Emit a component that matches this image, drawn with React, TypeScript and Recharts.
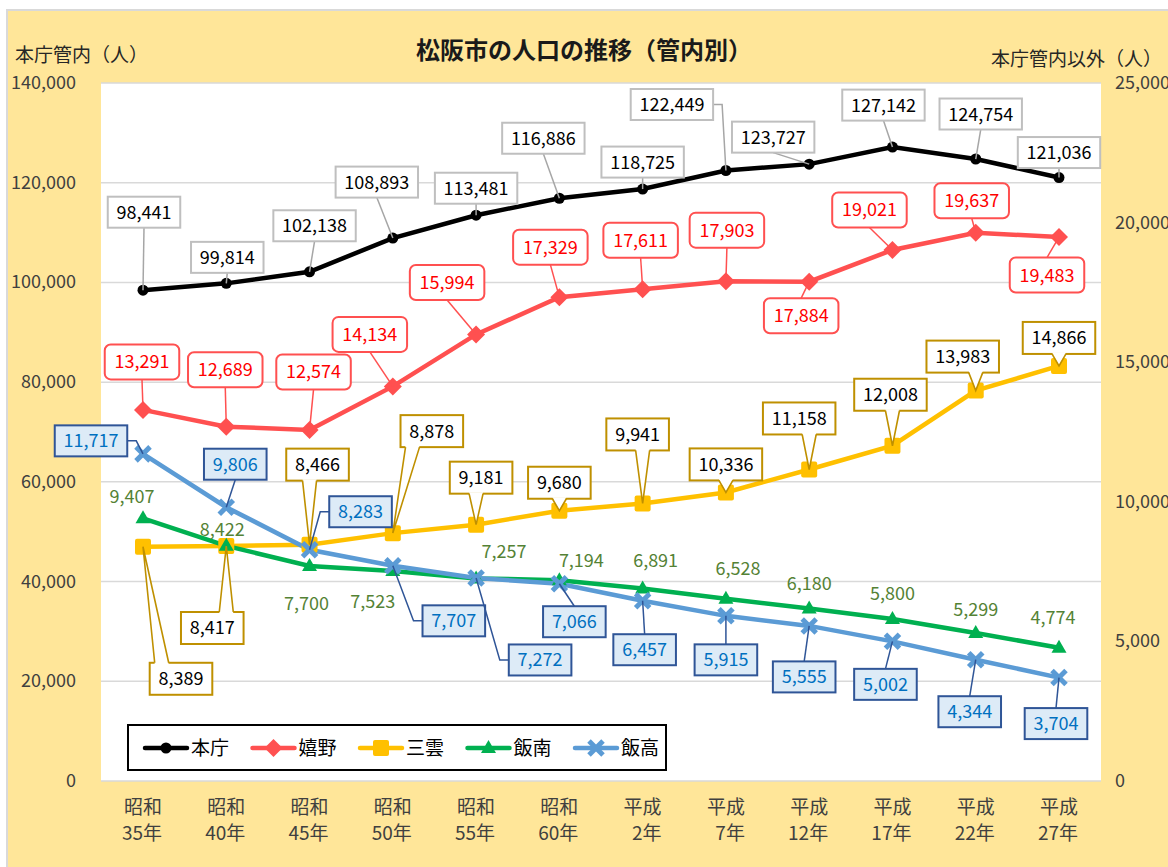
import React from 'react';
import { LineChart, Line, XAxis, YAxis, CartesianGrid, LabelList } from 'recharts';

const FONT = '"Noto Sans CJK JP", "Noto Sans", sans-serif';

// categories
const eraLabels = ['昭和', '昭和', '昭和', '昭和', '昭和', '昭和', '平成', '平成', '平成', '平成', '平成', '平成'];
const yearLabels = ['35年', '40年', '45年', '50年', '55年', '60年', '2年', '7年', '12年', '17年', '22年', '27年'];

// series (人)
const honcho = [98441, 99814, 102138, 108893, 113481, 116886, 118725, 122449, 123727, 127142, 124754, 121036];
const ureshino = [13291, 12689, 12574, 14134, 15994, 17329, 17611, 17903, 17884, 19021, 19637, 19483];
const mikumo = [8389, 8417, 8466, 8878, 9181, 9680, 9941, 10336, 11158, 12008, 13983, 14866];
const iinan = [9407, 8422, 7700, 7523, 7257, 7194, 6891, 6528, 6180, 5800, 5299, 4774];
const iitaka = [11717, 9806, 8283, 7707, 7272, 7066, 6457, 5915, 5555, 5002, 4344, 3704];

const leftTicks = [0, 20000, 40000, 60000, 80000, 100000, 120000, 140000];
const rightTicks = [0, 5000, 10000, 15000, 20000, 25000];

// where each data label sits relative to its point [dx, dy]
const honchoLabelPos = [[1, -78], [1, -26], [5, -46], [-16, -56], [0, -27], [-16, -60], [0, -27], [-54, -66], [-36, -27], [-9, -42], [5, -45], [0, -25]];
const ureshinoLabelPos = [[-1, -48], [-1, -57], [4, -58], [-23, -52], [-29, -52], [-9, -50], [-2, -49], [1, -51], [-8, 34], [-23, -40], [-4, -32], [-12, 38]];
const mikumoLabelPos = [[38, 132], [-14, 82], [8, -80], [39, -102], [5, -47], [0, -28], [-5, -69], [0, -28], [-10, -51], [-2, -51], [-13, -34], [0, -28]];
const iinanLabelPos = [[-11, -22], [-4, -16], [-3, 37], [-20, 31], [28, -27], [22, -20], [13, -28], [12, -30], [0, -25], [0, -26], [0, -24], [-6, -30]];
const iitakaLabelPos = [[-52, -13], [9, -43], [51, -38], [61, 55], [64, 82], [15, 38], [2, 49], [0, 44], [-5, 51], [-7, 43], [-6, 52], [-3, 46]];

const data = eraLabels.map((era, i) => ({
    idx: i,
    honcho: honcho[i],
    ureshino: ureshino[i],
    mikumo: mikumo[i],
    iinan: iinan[i],
    iitaka: iitaka[i],
}));

const fmt = (v: number) => v.toLocaleString('en-US');
const clamp = (v: number, lo: number, hi: number) => Math.max(lo, Math.min(hi, v));

type LabelStyle = {
    box: boolean;
    fill?: string;
    stroke?: string;
    leader?: string;
    text: string;
    rx?: number;
    h?: number;
    pad?: number;
    wedge?: boolean;
};

const textWidth = (s: string) => {
    const digits = s.replace(/,/g, '').length;
    return digits * 9.9 + (s.length - digits) * 5;
};

const makeLabel = (st: LabelStyle, values: number[], pos: number[][]) => (props: any) => {
    const { x, y } = props;
    let i = props.index;
    if (i == null) i = values.indexOf(props.value);
    if (x == null || y == null || i < 0) return null;
    const [dx, dy] = pos[i];
    const cx = x + dx;
    const cy = y + dy;
    const txt = fmt(values[i]);
    const label = (
        <text x={cx} y={cy + 6.5} textAnchor="middle" fill={st.text} fontSize={18} fontFamily={FONT}>{txt}</text>
    );
    if (!st.box) return <g key={`l-${i}`}>{label}</g>;

    const w = textWidth(txt) + (st.pad || 9) * 2;
    const h = st.h || 31;
    const l = cx - w / 2, r = cx + w / 2, t = cy - h / 2, b = cy + h / 2;

    if (st.wedge) {
        const below = y > cy;
        const ey = below ? b : t;
        const inner = below ? b - 1.5 : t + 1.5;
        const bx = clamp(x, l + 12, r - 12);
        return (
            <g key={`l-${i}`}>
                <rect x={l} y={t} width={w} height={h} fill={st.fill} stroke={st.stroke} strokeWidth={2} />
                <polygon points={`${bx - 7},${inner} ${x},${y} ${bx + 7},${inner}`} fill={st.fill} stroke="none" />
                <polyline points={`${bx - 7},${ey} ${x},${y} ${bx + 7},${ey}`} fill="none" stroke={st.stroke} strokeWidth={1.6} />
                {label}
            </g>
        );
    }

    let d = '';
    if (x >= l && x <= r) {
        const ey = y > cy ? b : t;
        if (Math.abs(y - ey) > 3) d = `M${cx},${ey} L${x},${y}`;
    } else {
        const side = x > r ? r : l;
        const stub = x > r ? r + 9 : l - 9;
        d = `M${side},${cy} L${stub},${cy} L${x},${y}`;
    }
    return (
        <g key={`l-${i}`}>
            {d && <path d={d} fill="none" stroke={st.leader} strokeWidth={1.5} />}
            <rect x={l} y={t} width={w} height={h} rx={st.rx || 0} fill={st.fill} stroke={st.stroke} strokeWidth={2} />
            {label}
        </g>
    );
};

// markers
const Circle = ({ cx, cy, color }: any) => <circle cx={cx} cy={cy} r={5.5} fill={color} />;
const Diamond = ({ cx, cy, color }: any) => (
    <polygon points={`${cx},${cy - 9} ${cx + 9},${cy} ${cx},${cy + 9} ${cx - 9},${cy}`} fill={color} />
);
const Square = ({ cx, cy, color }: any) => <rect x={cx - 8} y={cy - 8} width={16} height={16} rx={2} fill={color} />;
const Triangle = ({ cx, cy, color }: any) => (
    <polygon points={`${cx},${cy - 8} ${cx + 7.5},${cy + 5} ${cx - 7.5},${cy + 5}`} fill={color} />
);
const Cross = ({ cx, cy, color }: any) => (
    <g>
        <line x1={cx - 7} y1={cy - 7} x2={cx + 7} y2={cy + 7} stroke={color} strokeWidth={5} />
        <line x1={cx - 7} y1={cy + 7} x2={cx + 7} y2={cy - 7} stroke={color} strokeWidth={5} />
    </g>
);

const dotOf = (Shape: any, color: string) => (p: any) => (
    <g key={`d-${p.index}`}><Shape cx={p.cx} cy={p.cy} color={color} /></g>
);

const series = [
    { key: 'honcho', name: '本庁', color: '#000000', axis: 'left', Shape: Circle },
    { key: 'ureshino', name: '嬉野', color: '#FF5050', axis: 'right', Shape: Diamond },
    { key: 'mikumo', name: '三雲', color: '#FFC000', axis: 'right', Shape: Square },
    { key: 'iinan', name: '飯南', color: '#00B050', axis: 'right', Shape: Triangle },
    { key: 'iitaka', name: '飯高', color: '#5B9BD5', axis: 'right', Shape: Cross },
];

const labelSetups = [
    { key: 'honcho', axis: 'left', fn: makeLabel({ box: true, fill: '#fff', stroke: '#BFBFBF', leader: '#A6A6A6', text: '#000', h: 31, pad: 9 }, honcho, honchoLabelPos) },
    { key: 'ureshino', axis: 'right', fn: makeLabel({ box: true, fill: '#fff', stroke: '#FF5050', leader: '#FF5050', text: '#FF0000', h: 35, pad: 10, rx: 6 }, ureshino, ureshinoLabelPos) },
    { key: 'mikumo', axis: 'right', fn: makeLabel({ box: true, fill: '#fff', stroke: '#BF9000', text: '#000', h: 32, pad: 9, wedge: true }, mikumo, mikumoLabelPos) },
    { key: 'iinan', axis: 'right', fn: makeLabel({ box: false, text: '#548235' }, iinan, iinanLabelPos) },
    { key: 'iitaka', axis: 'right', fn: makeLabel({ box: true, fill: '#DDEBF7', stroke: '#2F5597', leader: '#2F5597', text: '#0070C0', h: 31, pad: 9 }, iitaka, iitakaLabelPos) },
];

const LeftTick = ({ x, y, payload }: any) => (
    <text x={x} y={y + 6} textAnchor="end" fill="#404040" fontSize={18} fontFamily={FONT}>{fmt(payload.value)}</text>
);
const RightTick = ({ x, y, payload }: any) => (
    <text x={x} y={y + 6} textAnchor="start" fill="#404040" fontSize={18} fontFamily={FONT}>{fmt(payload.value)}</text>
);
const BottomTick = ({ x, y, payload }: any) => (
    <g>
        <text x={x + 19} y={y + 33} textAnchor="end" fill="#404040" fontSize={19} fontFamily={FONT}>{eraLabels[payload.value]}</text>
        <text x={x + 19} y={y + 59} textAnchor="end" fill="#404040" fontSize={19} fontFamily={FONT}>{yearLabels[payload.value]}</text>
    </g>
);

const Legend = () => (
    <g>
        <rect x={128} y={725} width={538} height={45} fill="#fff" stroke="#000" strokeWidth={2} />
        {series.map((s, i) => {
            const x0 = 145 + i * 107.5;
            const Shape = s.Shape;
            return (
                <g key={s.key}>
                    <line x1={x0} y1={748} x2={x0 + 42} y2={748} stroke={s.color} strokeWidth={4.5} strokeLinecap="round" />
                    <Shape cx={x0 + 21} cy={748} color={s.color} />
                    <text x={x0 + 46} y={755} fontSize={19} fill="#000" fontFamily={FONT}>{s.name}</text>
                </g>
            );
        })}
    </g>
);

export default function App() {
    return (
        <div style={{ position: 'absolute', left: 0, top: 0, width: 1168, height: 867, overflow: 'hidden', background: '#fff', fontFamily: FONT }}>
            <div style={{ position: 'absolute', left: 6, top: 9, width: 1220, height: 920, background: '#FFE699', border: '2px solid #D9D9D9' }} />
            <div style={{ position: 'absolute', left: 0, top: 0 }}>
                <LineChart width={1168} height={867} data={data} margin={{ top: 83, right: 0, bottom: 0, left: 0 }}>
                    <CartesianGrid yAxisId="left" vertical={false} stroke="#D9D9D9" strokeWidth={1.5} fill="#fff" />
                    <XAxis dataKey="idx" type="category" height={86} axisLine={false} tickLine={false} tickSize={0} tickMargin={0}
                        padding={{ left: 42, right: 42 }} interval={0} tick={<BottomTick />} />
                    <YAxis yAxisId="left" orientation="left" width={101} domain={[0, 140000]} ticks={leftTicks}
                        axisLine={false} tickLine={false} tickSize={0} tickMargin={25} tick={<LeftTick />} />
                    <YAxis yAxisId="right" orientation="right" width={67} domain={[0, 25000]} ticks={rightTicks}
                        axisLine={false} tickLine={false} tickSize={0} tickMargin={14} tick={<RightTick />} />
                    {series.map((s) => (
                        <Line key={s.key} yAxisId={s.axis} dataKey={s.key} stroke={s.color} strokeWidth={4.5}
                            dot={dotOf(s.Shape, s.color)} activeDot={false} isAnimationActive={false} />
                    ))}
                    {labelSetups.map((s) => (
                        <Line key={`lbl-${s.key}`} yAxisId={s.axis} dataKey={s.key} stroke="none" dot={false}
                            activeDot={false} isAnimationActive={false} legendType="none">
                            <LabelList dataKey={s.key} content={s.fn} />
                        </Line>
                    ))}
                </LineChart>
            </div>
            <svg width={1168} height={867} style={{ position: 'absolute', left: 0, top: 0, pointerEvents: 'none' }}>
                <text x={584} y={59} textAnchor="middle" fontSize={24} fontWeight={700} fill="#1a1a1a" fontFamily={FONT}>松阪市の人口の推移（管内別）</text>
                <text x={15} y={62} fontSize={19} fill="#262626" fontFamily={FONT}>本庁管内（人）</text>
                <text x={1162} y={66} textAnchor="end" fontSize={19} fill="#262626" fontFamily={FONT}>本庁管内以外（人）</text>
                <Legend />
            </svg>
        </div>
    );
}
